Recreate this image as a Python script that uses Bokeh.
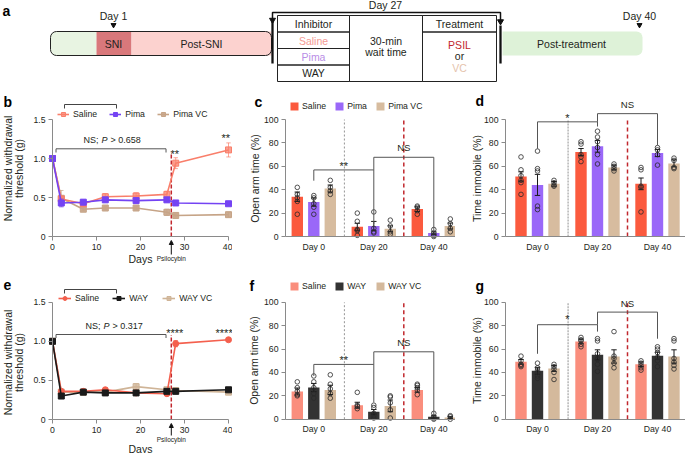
import numpy as np
from math import pi
from bokeh.plotting import figure
from bokeh.layouts import column, row
from bokeh.models import (Range1d, FixedTicker, CustomJSTickFormatter, Label,
                          Legend, LegendItem, Arrow, NormalHead, ColumnDataSource)
from bokeh.core.properties import value
from bokeh.embed import file_html
from bokeh.resources import INLINE

FONT = "Liberation Sans"
TXT = "#231f20"
AXC = "#8a8a8a"

# ---------------- data ----------------
days = [0, 2, 7, 12, 19, 26, 28, 40]
day_ticks = [0, 10, 20, 30, 40]

b_saline = [1.0, 0.48, 0.42, 0.51, 0.52, 0.54, 0.94, 1.11]
b_saline_err = [0.0, 0.04, 0.03, 0.04, 0.04, 0.04, 0.07, 0.09]
b_pima = [1.0, 0.43, 0.44, 0.47, 0.46, 0.47, 0.43, 0.42]
b_pima_err = [0.0, 0.05, 0.03, 0.03, 0.03, 0.03, 0.02, 0.02]
b_pimavc = [1.0, 0.49, 0.35, 0.365, 0.365, 0.31, 0.27, 0.28]
b_pimavc_err = [0.0, 0.10, 0.02, 0.02, 0.02, 0.04, 0.02, 0.03]

e_saline = [1.0, 0.36, 0.36, 0.38, 0.34, 0.33, 0.97, 1.02]
e_saline_err = [0.0, 0.02, 0.02, 0.03, 0.02, 0.02, 0.04, 0.02]
e_way = [1.0, 0.30, 0.35, 0.34, 0.34, 0.36, 0.36, 0.38]
e_way_err = [0.0, 0.02, 0.03, 0.02, 0.02, 0.02, 0.02, 0.02]
e_wayvc = [1.0, 0.35, 0.35, 0.35, 0.42, 0.38, 0.37, 0.35]
e_wayvc_err = [0.0, 0.02, 0.02, 0.02, 0.04, 0.03, 0.03, 0.02]

sessions = ["Day 0", "Day 20", "Day 40"]

c_saline = [34, 8.3, 23.4]
c_saline_err = [4, 3, 2]
c_pima = [29.4, 8.9, 2.9]
c_pima_err = [3.5, 4, 1]
c_pimavc = [41, 6.6, 9]
c_pimavc_err = [3, 2.5, 2.5]
c_saline_pts = [[42, 36, 33, 30, 19], [20, 13, 6, 5, 1], [26, 25, 22, 19]]
c_pima_pts = [[35, 33, 28, 25, 19], [21, 7, 4, 3], [6, 3, 1, 0]]
c_pimavc_pts = [[48, 42, 39, 36], [14, 9, 4, 2], [15, 11, 7, 4]]

d_saline = [51.3, 72.2, 45]
d_saline_err = [4, 3, 5]
d_pima = [44.1, 77.1, 71.3]
d_pima_err = [9, 5, 3]
d_pimavc = [45, 59, 62.5]
d_pimavc_err = [2, 2, 3]
d_saline_pts = [[68, 57, 52, 48, 46, 36], [81, 79, 70, 68, 64], [59, 57, 43, 42, 21]]
d_pima_pts = [[73, 58, 56, 26, 23], [90, 85, 81, 76, 70, 62], [76, 74, 70, 61]]
d_pimavc_pts = [[48, 46, 44, 43], [62, 60, 58, 56], [67, 65, 59, 58]]

f_saline = [23.7, 12, 25.1]
f_saline_err = [3, 2.5, 2]
f_way = [27.1, 6.3, 2]
f_way_err = [3.5, 2, 1]
f_wayvc = [25.1, 11.4, 1.4]
f_wayvc_err = [4, 5, 0.8]
f_saline_pts = [[32, 27, 24, 21, 20], [23, 12, 11, 9], [30, 29, 27, 25, 21]]
f_way_pts = [[37, 32, 27, 22, 18], [12, 10, 5, 3, 1], [5, 2, 1, 0]]
f_wayvc_pts = [[38, 30, 26, 22, 18], [20, 19, 14, 8, 1], [3, 2, 0]]

g_saline = [49.1, 66.6, 47.1]
g_saline_err = [2, 2, 2]
g_way = [41.4, 55.1, 54.3]
g_way_err = [3, 4.3, 3]
g_wayvc = [43.4, 53.7, 53.7]
g_wayvc_err = [2.5, 5.7, 5.7]
g_saline_pts = [[54, 50, 47, 46, 45], [70, 68, 67, 64, 62], [50, 48, 46, 44, 42]]
g_way_pts = [[48, 44, 42, 40, 37, 35], [69, 67, 56, 52, 51, 47, 41], [62, 60, 57, 53, 50, 45]]
g_wayvc_pts = [[47, 45, 43, 40, 34], [75, 54, 52, 48, 44], [69, 67, 52, 49, 46, 43]]

# colours
C_SAL_L, C_PIMA_L, C_PVC_L = "#f97f6b", "#7443f3", "#c6a487"
C_SAL_B, C_PIMA_B, C_PVC_B = "#fb5a3e", "#9a68f8", "#d7bc9f"
C_SAL2_L, C_WAY_L, C_WVC_L = "#f4604e", "#1a1a1a", "#cfb497"
C_SAL2_B, C_WAY_B, C_WVC_B = "#fa8e7d", "#333333", "#d4b99c"
RED = "#c1272d"


class Geo:
    """Canvas placement (page pixels) and the linear page-pixel <-> data mapping."""
    def __init__(self, left, top, w, h, xpx, xval, xs, ypx, yval, ys):
        self.left, self.top, self.w, self.h = left, top, w, h
        self.xpx, self.xval, self.xs = xpx, xval, xs
        self.ypx, self.yval, self.ys = ypx, yval, ys
        self.xr = (self.X(left), self.X(left + w))
        self.yr = (self.Y(top + h), self.Y(top))

    def X(self, px):
        return self.xval + (px - self.xpx) / self.xs

    def Y(self, py):
        return self.yval + (self.ypx - py) / self.ys


def make_fig(g):
    p = figure(width=g.w, height=g.h, x_range=Range1d(*g.xr), y_range=Range1d(*g.yr),
               output_backend="svg", toolbar_location=None, title=None, min_border=0,
               min_border_left=0, min_border_right=0, min_border_top=0,
               min_border_bottom=0)
    p.outline_line_color = None
    p.xgrid.visible = False
    p.ygrid.visible = False
    for ax in (p.xaxis[0], p.yaxis[0]):
        ax.axis_line_color = AXC
        ax.major_tick_line_color = AXC
        ax.minor_tick_line_color = None
        ax.major_tick_in = 0
        ax.major_tick_out = 4
        ax.major_label_standoff = 3
        ax.major_label_text_font = FONT
        ax.major_label_text_font_size = "8.7px"
        ax.major_label_text_color = TXT
    p.xaxis[0].fixed_location = 0
    return p


def label(p, x, y, text, size="10.5px", color=TXT, align="center", baseline="middle",
          angle=0.0, style="normal", x_offset=0):
    p.add_layout(Label(x=x, y=y, text=text, text_font=FONT, text_font_size=size,
                       text_color=color, text_align=align, text_baseline=baseline,
                       angle=angle, text_font_style=style, x_offset=x_offset))


def bracket(p, x0, x1, y, yl, yr, color="#555555"):
    p.line([x0, x0, x1, x1], [yl, y, y, yr], line_color=color, line_width=1)


# ---------------- panel a (schematic) ----------------
pa = figure(width=685, height=88, x_range=Range1d(0, 685), y_range=Range1d(88, 0),
            x_axis_type=None, y_axis_type=None, output_backend="svg",
            toolbar_location=None, title=None, min_border=0,
            min_border_left=0, min_border_right=0, min_border_top=0, min_border_bottom=0)
pa.outline_line_color = None

pa.quad(left=[50], right=[96], top=[31], bottom=[55], fill_color="#e8f4e2",
        line_color=None, border_radius=(6, 0, 0, 6))
pa.quad(left=[96], right=[131], top=[31], bottom=[55], fill_color="#d9787b", line_color=None)
pa.quad(left=[131], right=[271], top=[31], bottom=[55], fill_color="#fcd2cf", line_color=None)
pa.quad(left=[50], right=[271], top=[31], bottom=[55], fill_color=None,
        line_color="#222222", line_width=1, border_radius=6)
pa.quad(left=[502], right=[642], top=[31], bottom=[55], fill_color="#def2d8",
        line_color=None, border_radius=(0, 6, 6, 0))
pa.quad(left=[277, 277, 277, 277, 349, 422, 422],
        right=[349, 349, 349, 349, 422, 496, 496],
        top=[15, 31.5, 48, 64.5, 15, 15, 31.5],
        bottom=[31.5, 48, 64.5, 81, 81, 31.5, 81],
        fill_color=None, line_color="#222222", line_width=1)
pa.line([272, 272], [19, 63], line_color="#111111", line_width=2.3)
pa.line([500, 500], [25, 63], line_color="#111111", line_width=2.3)
pa.line([272, 272, 500, 500], [19, 12, 12, 20], line_color="#111111", line_width=1.5)
pa.scatter([272, 500], [19.5, 21], marker="inverted_triangle", size=6, color="#111111")
pa.scatter([113, 639], [24.5, 24.5], marker="inverted_triangle", size=5, color="#111111")

a_src = ColumnDataSource(dict(
    x=[113, 385, 639, 113, 201, 571, 313, 313, 313, 313, 385.5, 385.5, 459, 459, 459, 459],
    y=[15.5, 4.5, 15.5, 43.5, 43.5, 43.5, 23.5, 40, 56.5, 72.5, 40, 51.5, 23.5, 44, 55.5, 67],
    t=["Day 1", "Day 27", "Day 40", "SNI", "Post-SNI", "Post-treatment", "Inhibitor",
       "Saline", "Pima", "WAY", "30-min", "wait time", "Treatment", "PSIL", "or", "VC"],
    c=[TXT, TXT, TXT, TXT, TXT, TXT, TXT, "#f59a93", "#b98de6", TXT, TXT, TXT, TXT,
       RED, TXT, "#e5c3ad"],
))
pa.text(x="x", y="y", text="t", text_color="c", source=a_src, text_font=value(FONT),
        text_font_size="10.5px", text_align="center", text_baseline="middle")
pa.text(x=[2], y=[10], text=["a"], text_font=value(FONT), text_font_size="14px",
        text_font_style="bold", text_align="left", text_baseline="middle", text_color="black")

# ---------------- geometry (canvas box, then pixel->data mapping) ----------------
gb = Geo(0, 88, 232, 177, 52, 0, 4.4, 236, 0, 78.0)
gc = Geo(232, 88, 223, 177, 313.3, 0, 60.0, 236, 0, 1.17)
gd = Geo(455, 88, 230, 177, 537, 0, 60.0, 236, 0, 1.17)
ge = Geo(0, 265, 232, 188, 52, 0, 4.4, 419, 0, 78.2)
gf = Geo(232, 265, 223, 188, 313.3, 0, 60.0, 418.7, 0, 1.168)
gg = Geo(455, 265, 230, 188, 537, 0, 60.0, 418.7, 0, 1.168)


# ---------------- line panels ----------------
def line_panel(g, specs, names, leg_top, leg_left, glyph_w, spacing,
               p_text, br_y, br_end, txt_y, txt_x0, stars, letter, ylab_y,
               days_y, psil_y, arrow_y0, arrow_y1, artifact_y, red_top):
    p = make_fig(g)
    p.yaxis[0].fixed_location = 0
    p.xaxis[0].ticker = FixedTicker(ticks=day_ticks)
    p.xaxis[0].bounds = (0, 40)
    p.yaxis[0].ticker = FixedTicker(ticks=[0, 0.5, 1.0, 1.5])
    p.yaxis[0].bounds = (0, 1.5)
    p.yaxis[0].formatter = CustomJSTickFormatter(code="return tick == 0 ? '0' : tick.toFixed(1);")

    x = np.array(days, float)
    p.line([27, 27], [0, red_top], line_color=RED, line_width=1.5, line_dash="4 2")
    rends = {}
    for key in ["vc", "sal", "inh"]:
        y, err, color, marker, size, falpha = specs[key]
        y = np.array(y, float)
        e = np.array(err, float)
        ln = p.line(x, y, line_color=color, line_width=1.6)
        p.segment(x, y - e, x, y + e, line_color=color, line_width=1, line_alpha=0.7)
        p.segment(x - 0.5, y + e, x + 0.5, y + e, line_color=color, line_width=1, line_alpha=0.7)
        p.segment(x - 0.5, y - e, x + 0.5, y - e, line_color=color, line_width=1, line_alpha=0.7)
        sc = p.scatter(x, y, marker=marker, size=size, fill_color=color, fill_alpha=falpha,
                       line_color=color)
        rends[key] = [ln, sc]
    items = [LegendItem(label=names[0], renderers=rends["sal"]),
             LegendItem(label=names[1], renderers=rends["inh"]),
             LegendItem(label=names[2], renderers=rends["vc"])]
    leg = Legend(items=items, orientation="horizontal",
                 location=(leg_left - g.left, g.top + g.h - leg_top - 10),
                 glyph_width=glyph_w, glyph_height=10, label_height=10, label_standoff=4,
                 spacing=spacing, padding=0, margin=0, border_line_color=None,
                 background_fill_alpha=0, label_text_font=FONT,
                 label_text_font_size="8.7px", label_text_color=TXT)
    p.add_layout(leg, "center")

    bracket(p, g.X(64), g.X(116), g.Y(artifact_y), g.Y(artifact_y + 4), g.Y(artifact_y + 4),
            color="#444444")
    bracket(p, 0.8, 25.8, g.Y(br_y), g.Y(br_end), g.Y(br_end))
    label(p, g.X(txt_x0), g.Y(txt_y), "NS;", size="9px", align="left")
    label(p, g.X(txt_x0), g.Y(txt_y), "P", size="9px", align="left", style="italic", x_offset=18)
    label(p, g.X(txt_x0), g.Y(txt_y), "> " + p_text, size="9px", align="left", x_offset=27)
    for sx, sy, st in stars:
        label(p, sx, g.Y(sy), st, size="11px")
    p.add_layout(Arrow(end=NormalHead(size=4, fill_color="#111111", line_color="#111111"),
                       x_start=27, y_start=g.Y(arrow_y0), x_end=27, y_end=g.Y(arrow_y1),
                       line_width=1, line_color="#111111"))
    label(p, 27, g.Y(psil_y), "Psilocybin", size="6.5px")
    label(p, 20, g.Y(days_y), "Days", size="10.5px")
    label(p, g.X(7), g.Y(ylab_y), "Normalized withdrawal", angle=pi / 2)
    label(p, g.X(18.5), g.Y(ylab_y), "threshold (g)", angle=pi / 2)
    label(p, g.X(3), g.Y(letter[1]), letter[0], size="14px", align="left", style="bold",
          color="black")
    return p


pb = line_panel(gb,
                {"sal": (b_saline, b_saline_err, C_SAL_L, "square", 6, 0.75),
                 "inh": (b_pima, b_pima_err, C_PIMA_L, "square", 6, 1.0),
                 "vc": (b_pimavc, b_pimavc_err, C_PVC_L, "square", 6, 0.9)},
                ["Saline", "Pima", "Pima VC"], 109, 57, 12, 12,
                "0.658", 148.3, 152, 139.5, 83,
                [(27.8, 153, "**"), (39.4, 137, "**")], ("b", 101), 168,
                258, 258, 254, 240, 104, 1.08)

pe = line_panel(ge,
                {"sal": (e_saline, e_saline_err, C_SAL2_L, "circle", 6, 1.0),
                 "inh": (e_way, e_way_err, C_WAY_L, "square", 6, 1.0),
                 "vc": (e_wayvc, e_wayvc_err, C_WVC_L, "square", 6, 0.8)},
                ["Saline", "WAY", "WAY VC"], 293.3, 58, 13, 13,
                "0.317", 334, 337.5, 325, 85,
                [(27.8, 332, "****"), (39.0, 332, "****")], ("e", 284), 362,
                448, 439, 435, 423, 289, 1.08)


# ---------------- bar panels ----------------
OFFS = [-0.275, 0.0, 0.275]
BW = 0.19


def bar_panel(g, axis_px, specs, names, leg_top, leg_left, gray_style,
              brackets, texts, ylab, ylab_xy, letter):
    p = make_fig(g)
    p.yaxis[0].fixed_location = g.X(axis_px)
    p.yaxis[0].ticker = FixedTicker(ticks=[0, 20, 40, 60, 80, 100])
    p.yaxis[0].bounds = (0, 100)
    p.xaxis[0].bounds = (g.X(axis_px), g.xr[1])
    p.xaxis[0].ticker = FixedTicker(ticks=[0, 1, 2])
    p.xaxis[0].formatter = CustomJSTickFormatter(args=dict(labels=sessions),
                                                 code="return labels[Math.round(tick)];")
    p.xaxis[0].major_tick_line_color = None
    p.xaxis[0].major_tick_out = 3
    p.xaxis[0].major_label_standoff = 2

    rends = []
    for k, (vals, errs, pts, color) in enumerate(specs):
        xs = np.arange(3) + OFFS[k]
        rends.append(p.vbar(x=xs, top=vals, width=BW, fill_color=color, line_color=None))
    for k, (vals, errs, pts, color) in enumerate(specs):
        xs = np.arange(3) + OFFS[k]
        v = np.array(vals, float)
        e = np.array(errs, float)
        p.segment(xs, v - e, xs, v + e, line_color="#1a1a1a", line_width=1)
        p.segment(xs - 0.045, v + e, xs + 0.045, v + e, line_color="#1a1a1a", line_width=1)
        p.segment(xs - 0.045, v - e, xs + 0.045, v - e, line_color="#1a1a1a", line_width=1)
        px = [xs[i] for i, grp in enumerate(pts) for _ in grp]
        py = [val for grp in pts for val in grp]
        p.scatter(px, py, marker="circle", size=4.6, fill_color=None, line_color="#2a2a2a",
                  line_width=0.8)

    gcol, gw, gdash = gray_style
    p.line([0.51, 0.51], [0, 100], line_color=gcol, line_width=gw, line_dash=gdash)
    p.line([1.5, 1.5], [0, 100], line_color=RED, line_width=1.5, line_dash="4 3")

    for br in brackets:
        bracket(p, *br)
    for tx, ty, tt, ts in texts:
        label(p, tx, ty, tt, size=ts)

    if names is not None:
        items = [LegendItem(label=n, renderers=[r]) for n, r in zip(names, rends)]
        leg = Legend(items=items, orientation="horizontal",
                     location=(leg_left - g.left, g.top + g.h - leg_top - 10),
                     glyph_width=10, glyph_height=10, label_height=10, label_standoff=3,
                     spacing=8, padding=0, margin=0, border_line_color=None,
                     background_fill_alpha=0, label_text_font=FONT,
                     label_text_font_size="8.7px", label_text_color=TXT)
        p.add_layout(leg, "center")
    label(p, g.X(ylab_xy[0]), g.Y(ylab_xy[1]), ylab, angle=pi / 2)
    label(p, g.X(letter[1]), g.Y(letter[2]), letter[0], size="14px", align="left",
          style="bold", color="black")
    return p


pc = bar_panel(gc, 285,
               [(c_saline, c_saline_err, c_saline_pts, C_SAL_B),
                (c_pima, c_pima_err, c_pima_pts, C_PIMA_B),
                (c_pimavc, c_pimavc_err, c_pimavc_pts, C_PVC_B)],
               ["Saline", "Pima", "Pima VC"], 101, 289, ("#7a7a7a", 0.8, "2 2"),
               [(0, 1, 56.9, 47.7, 10.6), (1, 2, 67.7, 56.9, 4.9)],
               [(0.5, 60, "**", "11px"), (1.5, 75.7, "NS", "9.6px")],
               "Open arm time (%)", (254, 178), ("c", 254, 101))

pd_ = bar_panel(gd, 505,
                [(d_saline, d_saline_err, d_saline_pts, C_SAL_B),
                 (d_pima, d_pima_err, d_pima_pts, C_PIMA_B),
                 (d_pimavc, d_pimavc_err, d_pimavc_pts, C_PVC_B)],
                None, None, None, ("#b5b5b5", 1.5, "2 1"),
                [(0, 1, 98, 75, 94), (1, 2, 105, 98, 78)],
                [(0.5, 101.5, "*", "11px"), (1.5, 113, "NS", "9.6px")],
                "Time immobile (%)", (476, 178), ("d", 475, 100))

pf = bar_panel(gf, 285,
               [(f_saline, f_saline_err, f_saline_pts, C_SAL2_B),
                (f_way, f_way_err, f_way_pts, C_WAY_B),
                (f_wayvc, f_wayvc_err, f_wayvc_pts, C_WVC_B)],
               ["Saline", "WAY", "WAY VC"], 281.3, 289, ("#7a7a7a", 0.8, "2 2"),
               [(0, 1, 46.9, 37, 14.3), (1, 2, 57.7, 46.9, 3.4)],
               [(0.5, 50.5, "**", "11px"), (1.5, 65.7, "NS", "9.6px")],
               "Open arm time (%)", (253.5, 360), ("f", 249, 285))

pg = bar_panel(gg, 505,
               [(g_saline, g_saline_err, g_saline_pts, C_SAL2_B),
                (g_way, g_way_err, g_way_pts, C_WAY_B),
                (g_wayvc, g_wayvc_err, g_wayvc_pts, C_WVC_B)],
               None, None, None, ("#b5b5b5", 1.5, "2 1"),
               [(0, 1, 80.9, 56, 75), (1, 2, 91.7, 80.9, 68.9)],
               [(0.5, 85.5, "*", "11px"), (1.5, 99.4, "NS", "9.6px")],
               "Time immobile (%)", (476, 360), ("g", 475, 285))

layout = column(pa, row(pb, pc, pd_), row(pe, pf, pg))

with open("out.html", "w") as fh:
    fh.write(file_html(layout, INLINE))
